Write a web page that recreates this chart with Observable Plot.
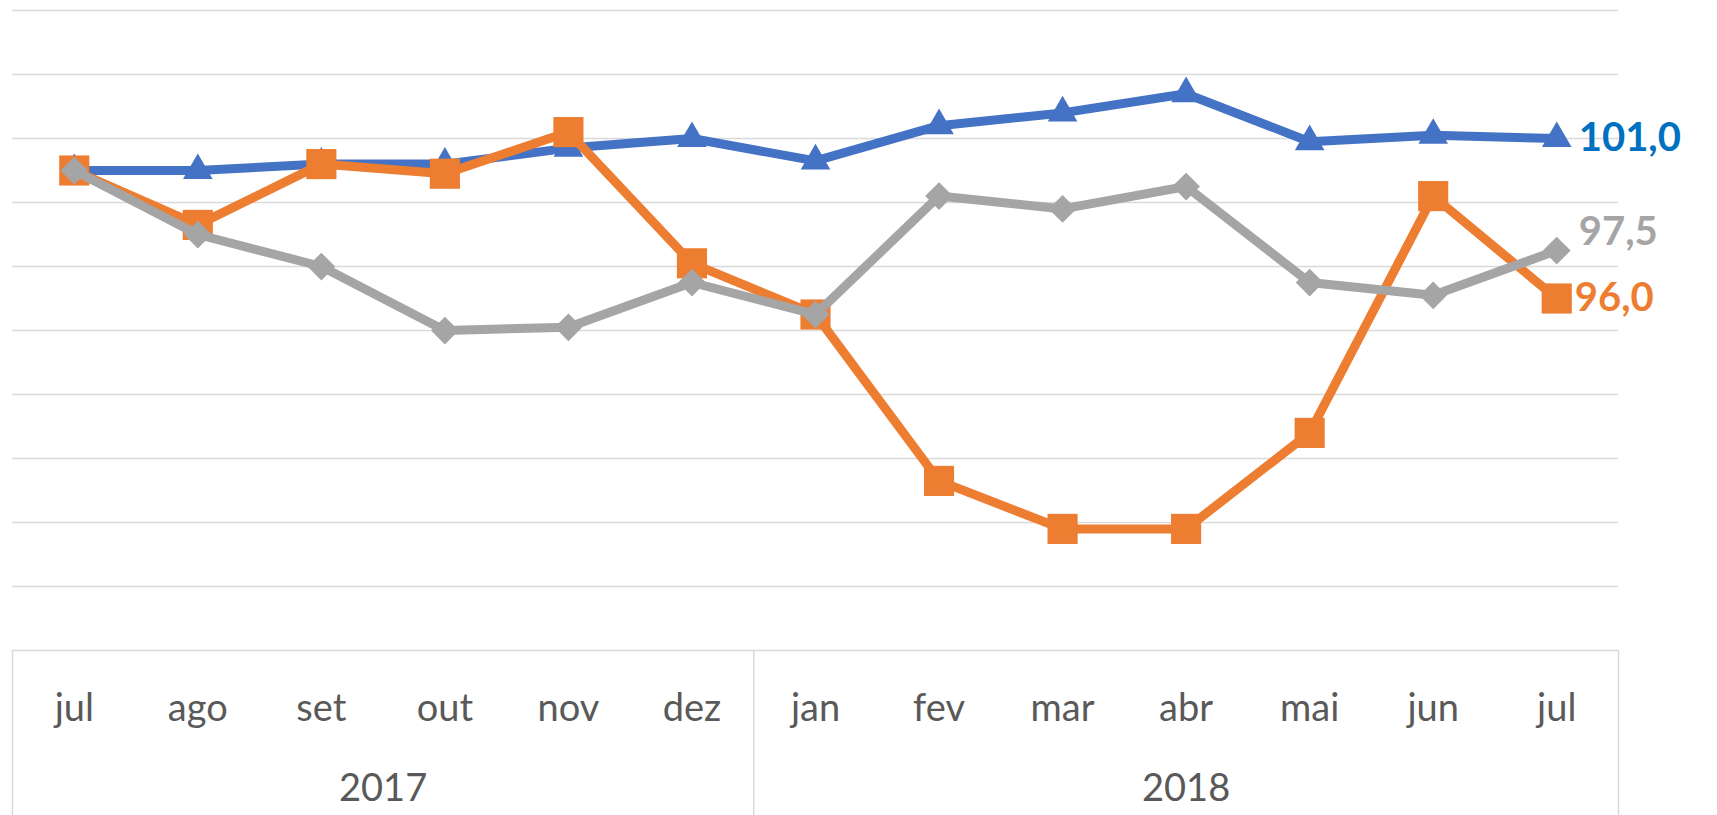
<!DOCTYPE html>
<html>
<head>
<meta charset="utf-8">
<script src="https://cdn.jsdelivr.net/npm/d3@7"></script>
<script src="https://cdn.jsdelivr.net/npm/@observablehq/plot@0.6"></script>
<style>
  html, body { margin: 0; padding: 0; background: #fff; }
  svg { display: block; }
</style>
</head>
<body>
<div id="chart"></div>
<script>
// Categories
const months = ["jul","ago","set","out","nov","dez","jan","fev","mar","abr","mai","jun","jul"];
const monthYear = ["2017","2017","2017","2017","2017","2017","2018","2018","2018","2018","2018","2018","2018"];
const years = ["2017","2018"];

// Series values
const seriesBlue   = [100.0, 100.0, 100.2, 100.2, 100.7, 101.0, 100.3, 101.4, 101.8, 102.4, 100.9, 101.1, 101.0];
const seriesOrange = [100.0,  98.3, 100.2,  99.9, 101.2,  97.1,  95.5,  90.3,  88.8,  88.8,  91.8,  99.2,  96.0];
const seriesGray   = [100.0,  98.0,  97.0,  95.0,  95.1,  96.5,  95.5,  99.2,  98.8,  99.5,  96.5,  96.1,  97.5];

// Gridline values (no tick labels shown)
const gridValues = [87, 89, 91, 93, 95, 97, 99, 101, 103, 105];
const axisBase = 85;

const series = [
  {name: "blue",   values: seriesBlue,   color: "#4472C4", label: "#0070C0", symbol: "triangle", r: 11},
  {name: "orange", values: seriesOrange, color: "#ED7D31", label: "#ED7D31", symbol: "square",   r: 17},
  {name: "gray",   values: seriesGray,   color: "#A5A5A5", label: "#A5A5A5", symbol: "diamond2", r: 12.5}
];

const labelOffsets = {blue: {dx: 22, dy: 0}, orange: {dx: 18, dy: 0}, gray: {dx: 22, dy: -18}};

const idx = months.map((_, i) => i);

// year groups (box boundaries and centers derived from data)
const yearGroups = years.map(y => {
  const ids = idx.filter(i => monthYear[i] === y);
  return {year: y, first: d3.min(ids), last: d3.max(ids), center: d3.mean(ids)};
});
const boundaries = [yearGroups[0].first - 0.5, ...yearGroups.map(g => g.last + 0.5)];

const marks = [
  Plot.ruleY(gridValues, {stroke: "#d9d9d9", strokeWidth: 1.5}),
  Plot.ruleY([axisBase], {stroke: "#d9d9d9", strokeWidth: 1.5}),
  Plot.ruleX(boundaries, {x: d => d, y1: () => axisBase, y2: () => 79, stroke: "#d9d9d9", strokeWidth: 1.5}),
  Plot.text(months, {x: (d, i) => i, y: () => axisBase, text: d => d, dy: 58, fontSize: 38, fill: "#595959"}),
  Plot.text(yearGroups, {x: "center", y: () => axisBase, text: "year", dy: 138, fontSize: 38, fill: "#595959"})
];

for (const s of series) {
  const data = s.values.map((v, i) => ({i, v}));
  marks.push(Plot.line(data, {x: "i", y: "v", stroke: s.color, strokeWidth: 9, strokeLinejoin: "round"}));
  marks.push(Plot.dot(data, {x: "i", y: "v", symbol: s.symbol, r: s.r, fill: s.color, stroke: "none"}));
}
for (const s of series) {
  const last = {i: s.values.length - 1, v: s.values[s.values.length - 1]};
  const o = labelOffsets[s.name];
  marks.push(Plot.text([last], {
    x: "i", y: "v",
    text: d => d.v.toFixed(1).replace(".", ","),
    textAnchor: "start", dx: o.dx, dy: o.dy,
    fontSize: 40, fontWeight: "bold", fill: s.label
  }));
}

const chart = Plot.plot({
  width: 1717,
  height: 815,
  marginLeft: 12,
  marginRight: 99,
  marginTop: 10,
  marginBottom: 165,
  x: {type: "linear", domain: [-0.5, 12.5], axis: null},
  y: {domain: [85, 105], axis: null},
  style: {fontFamily: "Lato, 'Open Sans', sans-serif", background: "white", overflow: "visible"},
  marks
});
document.getElementById("chart").appendChild(chart);
</script>
</body>
</html>
